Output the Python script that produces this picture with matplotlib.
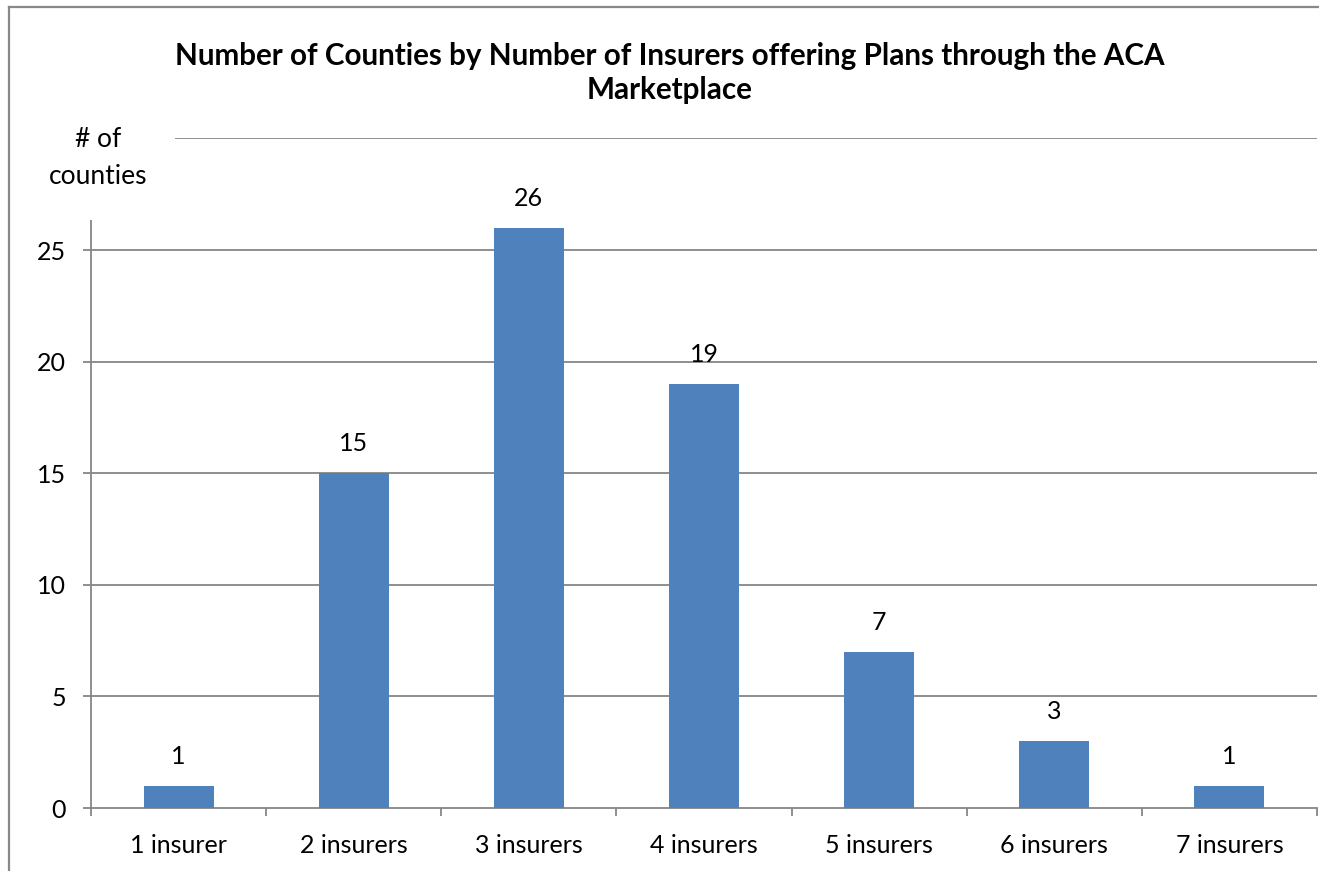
import matplotlib
matplotlib.use("Agg")
import matplotlib.pyplot as plt
from matplotlib.patches import Rectangle
from matplotlib.lines import Line2D

plt.rcParams['font.family'] = ['Lato', 'DejaVu Sans']

categories = ["1 insurer", "2 insurers", "3 insurers", "4 insurers",
              "5 insurers", "6 insurers", "7 insurers"]
counties = [1, 15, 26, 19, 7, 3, 1]
y_ticks = [0, 5, 10, 15, 20, 25]

W, H = 1319, 871
fig = plt.figure(figsize=(W / 100, H / 100), dpi=100)

def fx(px):
    return px / W

def fy(py):
    return 1 - py / H

left, right, bottom, top = 91, 1317, 808, 138.4
ax = fig.add_axes([fx(left), fy(bottom), fx(right) - fx(left), fy(top) - fy(bottom)])

grid_c = "#868686"
bar_c = "#4F81BD"
label_size = 18

x = list(range(len(categories)))
ax.bar(x, counties, width=0.4, color=bar_c, zorder=3)
ax.set_xlim(-0.5, len(categories) - 0.5)
ax.set_ylim(0, 30)

# horizontal gridlines, including the top one at 30
for v in y_ticks[1:] + [30]:
    ax.axhline(v, color=grid_c, lw=1.3, zorder=1)

for s in ["top", "right"]:
    ax.spines[s].set_visible(False)
for s in ["left", "bottom"]:
    ax.spines[s].set_color(grid_c)
    ax.spines[s].set_linewidth(1.3)

ax.set_yticks(y_ticks)
ax.set_yticklabels([str(v) for v in y_ticks])
ax.tick_params(axis="y", direction="out", length=6, width=1.3, color=grid_c,
               labelsize=label_size, pad=12, labelcolor="black")

# category labels at centres, tick marks at category boundaries
ax.set_xticks(x)
ax.set_xticklabels(categories)
ax.tick_params(axis="x", which="major", length=0, labelsize=label_size, pad=19,
               labelcolor="black")
ax.set_xticks([i - 0.5 for i in range(len(categories) + 1)], minor=True)
ax.tick_params(axis="x", which="minor", direction="out", length=6, width=1.3, color=grid_c)

for xi, v in zip(x, counties):
    ax.annotate(str(v), (xi, v), xytext=(0, 13), textcoords="offset points",
                ha="center", va="bottom", fontsize=label_size, color="black")

# axis title box sits over the upper-left corner of the plot area
fig.patches.append(Rectangle((fx(20), fy(220)), fx(175) - fx(20), fy(120) - fy(220),
                             transform=fig.transFigure, facecolor="white",
                             edgecolor="none", zorder=2))
fig.text(fx(98), fy(158), "# of\ncounties", ha="center", va="center",
         fontsize=19, linespacing=1.6, zorder=3)

fig.text(fx(670), fy(73), "Number of Counties by Number of Insurers offering Plans through the ACA\nMarketplace",
         ha="center", va="center", fontsize=21.3, fontweight="bold", linespacing=1.3)

# outer chart frame
fig.lines.append(Line2D([fx(9), fx(9)], [fy(7), 0], transform=fig.transFigure,
                        color="#888888", lw=1.6))
fig.lines.append(Line2D([fx(9), 1], [fy(7), fy(7)], transform=fig.transFigure,
                        color="#888888", lw=1.6))

fig.savefig("out.png", dpi=100)
